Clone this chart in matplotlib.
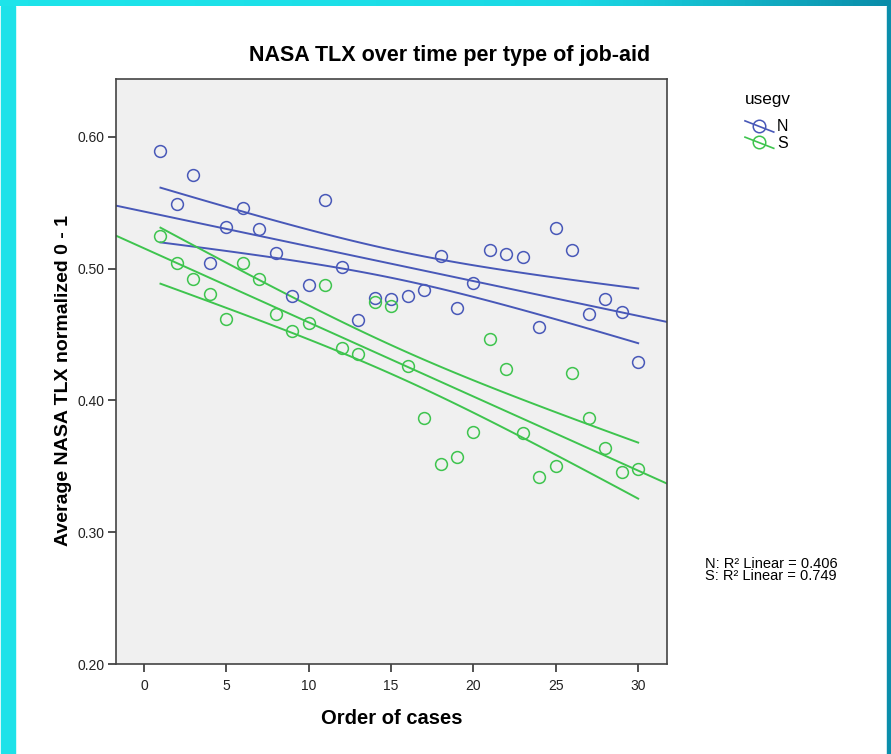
import numpy as np
import matplotlib
matplotlib.use("Agg")
import matplotlib.pyplot as plt
from matplotlib.lines import Line2D
from matplotlib.colors import LinearSegmentedColormap
from matplotlib.legend_handler import HandlerBase

plt.rcParams['font.family'] = ['Liberation Sans', 'DejaVu Sans']

# ---- data ----
order = list(range(1, 31))
tlx_N = [0.589, 0.549, 0.571, 0.504, 0.532, 0.546, 0.530, 0.512, 0.479, 0.488,
         0.552, 0.501, 0.461, 0.478, 0.477, 0.479, 0.484, 0.510, 0.470, 0.489,
         0.514, 0.511, 0.509, 0.456, 0.531, 0.514, 0.466, 0.477, 0.467, 0.429]
tlx_S = [0.525, 0.504, 0.492, 0.481, 0.462, 0.504, 0.492, 0.466, 0.453, 0.459,
         0.488, 0.440, 0.435, 0.475, 0.472, 0.426, 0.387, 0.352, 0.357, 0.376,
         0.447, 0.424, 0.375, 0.342, 0.350, 0.421, 0.387, 0.364, 0.346, 0.348]
groups = ['N', 'S']
r2_text = 'N: R\u00b2 Linear = 0.406\nS: R\u00b2 Linear = 0.749'
x_ticks = [0, 5, 10, 15, 20, 25, 30]
y_ticks = [0.20, 0.30, 0.40, 0.50, 0.60]
t_crit = 2.0484  # t(0.975, df=28)

colors = {'N': '#4858b8', 'S': '#3ec44e'}

W, H = 891, 754
fig = plt.figure(figsize=(W / 100, H / 100), dpi=100)
fig.patch.set_facecolor('white')

# ---- decorative frame ----
top = fig.add_axes([0, 1 - 6 / H, 1, 6 / H])
cmap = LinearSegmentedColormap.from_list('g', ['#1ee4ea', '#1ad8e4', '#0a8ca9'])
grad = np.linspace(0, 1, 256).reshape(1, -1)
top.imshow(grad ** 1.6, aspect='auto', cmap=cmap, extent=[0, 1, 0, 1])
top.axis('off')
fig.add_artist(plt.Rectangle((1 / W, 0), 14 / W, 1 - 6 / H, transform=fig.transFigure,
                             color='#1de2e9', zorder=0))
fig.add_artist(plt.Rectangle((887 / W, 0), 4 / W, 1 - 6 / H, transform=fig.transFigure,
                             color='#0a8eab', zorder=0))

# ---- main axes ----
ax = fig.add_axes([116 / W, 1 - 664 / H, (667 - 116) / W, (664 - 79) / H])
ax.set_facecolor('#f0f0f0')
ax.set_xlim(-1.7, 31.75)
ax.set_ylim(0.20, 0.644)

xs = np.array(order, dtype=float)
for g, ys in zip(groups, [tlx_N, tlx_S]):
    ys = np.array(ys)
    c = colors[g]
    ax.plot(xs, ys, 'o', mfc='none', mec=c, ms=8.5, mew=1.1, zorder=3)
    b1, b0 = np.polyfit(xs, ys, 1)
    xf = np.linspace(-1.7, 31.75, 100)
    ax.plot(xf, b0 + b1 * xf, color=c, lw=1.4, zorder=2)
    n = len(xs)
    resid = ys - (b0 + b1 * xs)
    s = np.sqrt(np.sum(resid ** 2) / (n - 2))
    xc = np.linspace(xs.min(), xs.max(), 100)
    se = s * np.sqrt(1 / n + (xc - xs.mean()) ** 2 / np.sum((xs - xs.mean()) ** 2))
    yc = b0 + b1 * xc
    ax.plot(xc, yc + t_crit * se, color=c, lw=1.4, zorder=2)
    ax.plot(xc, yc - t_crit * se, color=c, lw=1.4, zorder=2)

ax.set_xticks(x_ticks)
ax.set_yticks(y_ticks)
ax.set_yticklabels([f'{v:.2f}' for v in y_ticks])
ax.tick_params(axis='both', direction='out', length=6, width=1.2, colors='#333333',
               labelsize=10, labelcolor='#222222')
ax.tick_params(axis='x', pad=5)
ax.tick_params(axis='y', pad=2)
for sp in ax.spines.values():
    sp.set_color('#444444')
    sp.set_linewidth(1.2)

ax.set_xlabel('Order of cases', fontsize=14.5, fontweight='bold', labelpad=11)
ax.set_ylabel('Average NASA TLX normalized 0 - 1', fontsize=14, fontweight='bold')
ax.yaxis.set_label_coords(-0.0800, 0.484)
fig.text(450 / W, 1 - 55 / H, 'NASA TLX over time per type of job-aid', fontsize=15.5,
         fontweight='bold', ha='center', va='center')


# ---- legend ----
class SlantHandler(HandlerBase):
    def create_artists(self, legend, orig, xdescent, ydescent, width, height, fontsize, trans):
        c = orig.get_color()
        ln = Line2D([-xdescent, width - xdescent],
                    [height * 0.95 - ydescent, -0.05 * height - ydescent],
                    color=c, lw=1.2, transform=trans)
        mk = Line2D([width / 2 - xdescent], [height / 2 - ydescent], marker='o',
                    mfc='none', mec=c, ms=9, mew=1.1, ls='none', transform=trans)
        return [ln, mk]


handles = [Line2D([], [], color=colors[g]) for g in groups]
leg = fig.legend(handles, groups, title='usegv', loc='upper left',
                 bbox_to_anchor=(737 / W, 1 - 84 / H), frameon=False, fontsize=11.5,
                 title_fontsize=12.3, handlelength=1.8, handletextpad=0.2,
                 labelspacing=0.08, borderpad=0,
                 handler_map={Line2D: SlantHandler()})
leg._legend_box.align = 'left'
leg._legend_box.sep = 9

fig.text(705 / W, 1 - 570 / H, r2_text, fontsize=10.5, ha='left', va='center',
         linespacing=0.8)

fig.savefig('out.png', dpi=100)
